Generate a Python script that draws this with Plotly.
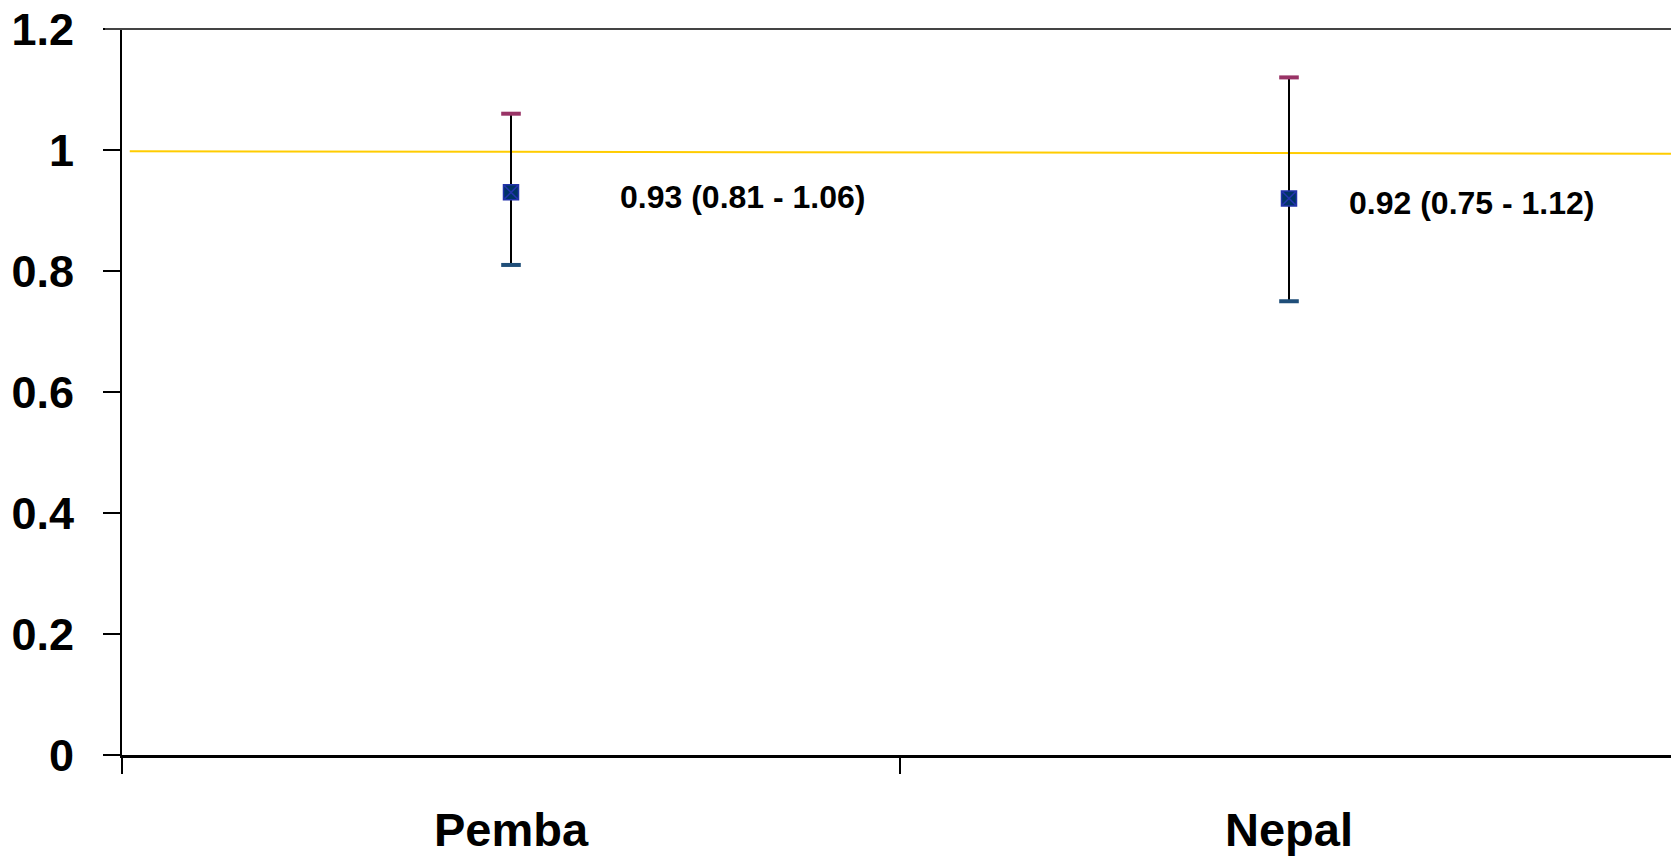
import plotly.graph_objects as go

categories = ["Pemba", "Nepal"]
estimate = [0.93, 0.92]
lower = [0.81, 0.75]
upper = [1.06, 1.12]
labels = ["0.93 (0.81 - 1.06)", "0.92 (0.75 - 1.12)"]
label_x = [0.137, 1.074]
ref_x = [-0.49, 1.491]
ref_y = [0.998, 0.994]
y_tickvals = [0, 0.2, 0.4, 0.6, 0.8, 1.0, 1.2]
y_ticktext = ["0", "0.2", "0.4", "0.6", "0.8", "1", "1.2"]

FONT = "Arial, Liberation Sans, sans-serif"

fig = go.Figure()

# reference line at 1
fig.add_shape(type="line", x0=ref_x[0], x1=ref_x[1], y0=ref_y[0], y1=ref_y[1],
              xref="x", yref="y", line=dict(color="#FFCC00", width=2), layer="below")

# top border line
fig.add_shape(type="line", x0=-17 / 1549, x1=1, y0=1, y1=1, xref="paper", yref="paper",
              line=dict(color="#444444", width=2))

# CI vertical lines
fig.add_trace(go.Scatter(
    x=categories, y=estimate, mode="markers",
    marker=dict(size=0.1, color="rgba(0,0,0,0)"),
    error_y=dict(type="data", symmetric=False,
                 array=[u - e for u, e in zip(upper, estimate)],
                 arrayminus=[e - l for e, l in zip(estimate, lower)],
                 color="black", thickness=2, width=0),
    showlegend=False, hoverinfo="skip"))

# caps
fig.add_trace(go.Scatter(
    x=categories, y=upper, mode="markers",
    marker=dict(symbol="line-ew", size=14, line=dict(color="#993366", width=4)),
    showlegend=False))
fig.add_trace(go.Scatter(
    x=categories, y=lower, mode="markers",
    marker=dict(symbol="line-ew", size=14, line=dict(color="#1F4E79", width=4)),
    showlegend=False))

# point estimates
fig.add_trace(go.Scatter(
    x=categories, y=estimate, mode="markers",
    marker=dict(symbol="square-x", size=15, color="#003366",
                line=dict(color="#2233AA", width=1.5)),
    showlegend=False))

for lx, ly, txt in zip(label_x, estimate, labels):
    fig.add_annotation(x=lx, y=ly, xref="x", yref="y", text=txt, showarrow=False,
                       xanchor="left", yanchor="middle", yshift=-5,
                       font=dict(family=FONT, size=32, color="black", weight="bold"))

fig.update_layout(
    width=1671, height=856,
    margin=dict(l=122, r=0, t=29, b=97),
    plot_bgcolor="white", paper_bgcolor="white",
    xaxis=dict(type="category", range=[-0.5, 1.491], showline=True, linecolor="black",
               linewidth=3, ticks="outside", tickson="boundaries", ticklen=16,
               tickwidth=2, tickcolor="black", showgrid=False, zeroline=False,
               tickfont=dict(family=FONT, size=47, color="black", weight="bold"),
               ticklabelstandoff=32),
    yaxis=dict(range=[0, 1.2], showline=True, linecolor="black", linewidth=2,
               ticks="outside", ticklen=17, tickwidth=2, tickcolor="black",
               tickvals=y_tickvals, ticktext=y_ticktext, showgrid=False, zeroline=False,
               tickfont=dict(family=FONT, size=45, color="black", weight="bold"),
               ticklabelstandoff=20),
)

fig.write_html("out.html", config={"displayModeBar": False},
               post_script="document.body.style.margin='0';")
